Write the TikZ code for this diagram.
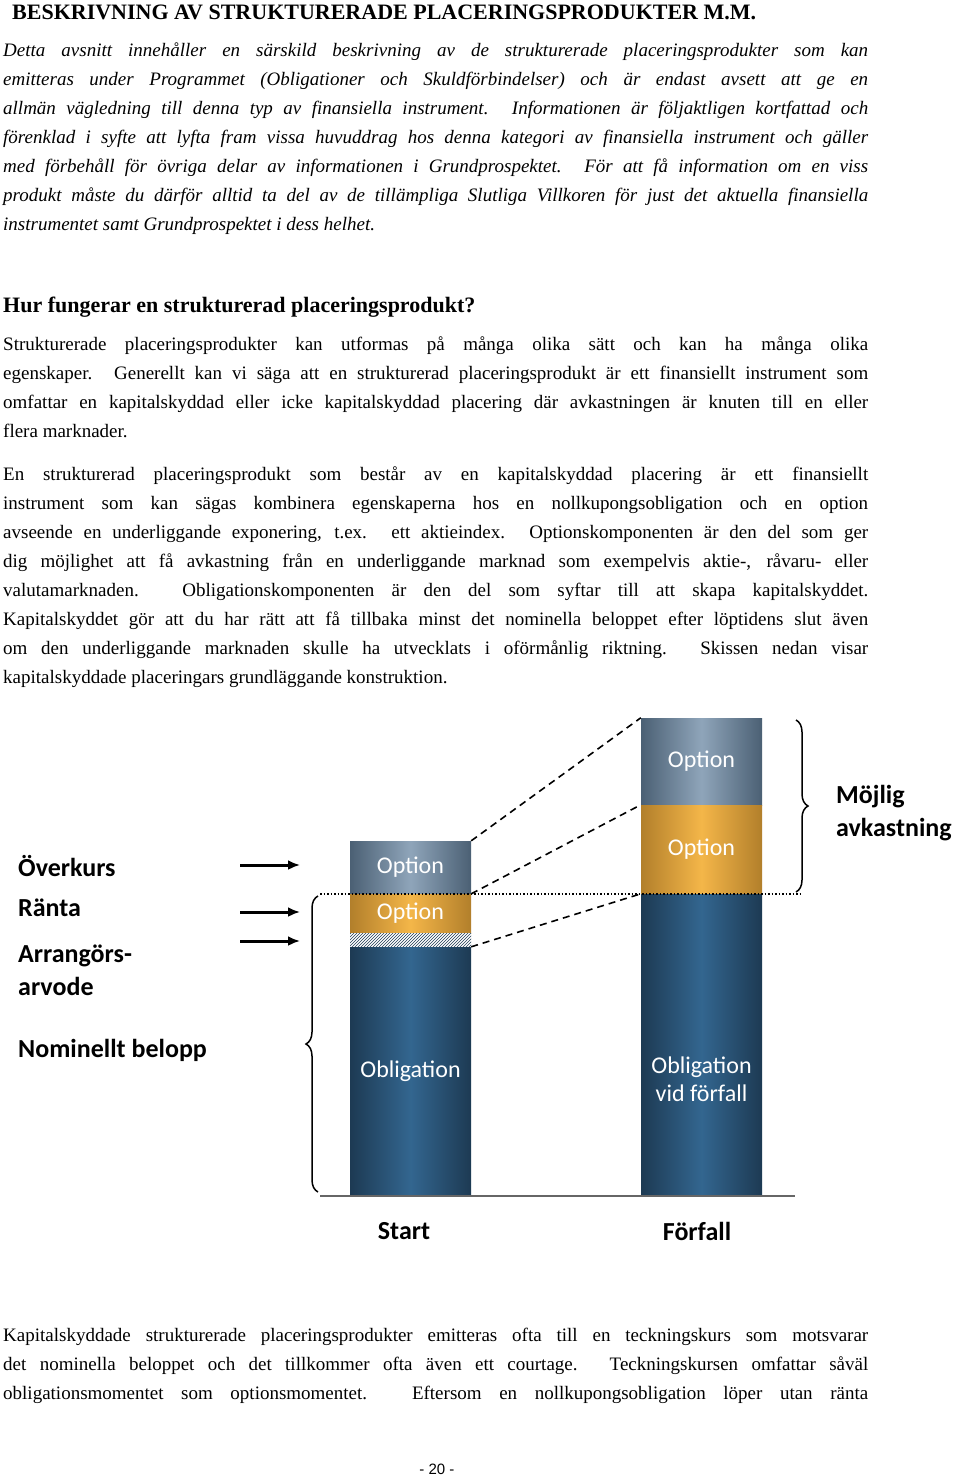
\documentclass[tikz,border=0pt]{standalone}
\usepackage{fontspec}
\setmainfont{Liberation Serif}
\newfontfamily\calib{Carlito}
\newfontfamily\arialf{Liberation Sans}
\usetikzlibrary{arrows.meta,positioning,patterns,decorations.pathreplacing}
\definecolor{optgrey}{HTML}{8FA5BA}
\definecolor{optgreyd}{HTML}{4B6074}
\definecolor{optgold}{HTML}{F4B649}
\definecolor{optgoldd}{HTML}{B27F2B}
\definecolor{oblblue}{HTML}{33668F}
\definecolor{oblblued}{HTML}{1D3A53}
\tikzset{para/.style={anchor=north west, inner sep=0pt, align=left, font=\fontsize{19}{29}\selectfont},
  seg/.style={minimum width=121pt, inner sep=0pt, text=white, font=\calib\fontsize{24}{28}\selectfont},
  greyseg/.style={seg, left color=optgreyd, right color=optgreyd, middle color=optgrey},
  goldseg/.style={seg, left color=optgoldd, right color=optgoldd, middle color=optgold},
  blueseg/.style={seg, left color=oblblued, right color=oblblued, middle color=oblblue},
  lbl/.style={anchor=west, inner sep=0pt, align=left, font=\calib\bfseries\fontsize{26}{33}\selectfont},
  arr/.style={draw, -{Latex[length=12pt,width=10pt]}, line width=3pt},
  dsh/.style={draw, dashed, line width=1.6pt, dash pattern=on 7pt off 5pt}}
\newcommand{\jl}[1]{\makebox[865pt][s]{#1}\\}

\begin{document}
\begin{tikzpicture}[x=1pt,y=-1pt]
        \useasboundingbox[fill=white] (0,0) rectangle (960,1476);
        % page text
        \node[anchor=base west, inner sep=0pt, font=\bfseries\fontsize{22}{26}\selectfont] (title) at (12,19) {BESKRIVNING AV STRUKTURERADE PLACERINGSPRODUKTER M.M.};
        \node[para, font=\itshape\fontsize{19}{29}\selectfont] (intro) at (3,43) {
            \jl{Detta avsnitt innehåller en särskild beskrivning av de strukturerade placeringsprodukter som kan}
            \jl{emitteras under Programmet (Obligationer och Skuldförbindelser) och är endast avsett att ge en}
            \jl{allmän vägledning till denna typ av finansiella instrument. Informationen är följaktligen kortfattad och}
            \jl{förenklad i syfte att lyfta fram vissa huvuddrag hos denna kategori av finansiella instrument och gäller}
            \jl{med förbehåll för övriga delar av informationen i Grundprospektet. För att få information om en viss}
            \jl{produkt måste du därför alltid ta del av de tillämpliga Slutliga Villkoren för just det aktuella finansiella}
            instrumentet samt Grundprospektet i dess helhet.};
        \node[anchor=base west, inner sep=0pt, font=\bfseries\fontsize{22}{26}\selectfont] (head) at (3,312) {Hur fungerar en strukturerad placeringsprodukt?};
        \node[para] (para1) at (3,337) {
            \jl{Strukturerade placeringsprodukter kan utformas på många olika sätt och kan ha många olika}
            \jl{egenskaper. Generellt kan vi säga att en strukturerad placeringsprodukt är ett finansiellt instrument som}
            \jl{omfattar en kapitalskyddad eller icke kapitalskyddad placering där avkastningen är knuten till en eller}
            flera marknader.};
        \node[para] (para2) at (3,467) {
            \jl{En strukturerad placeringsprodukt som består av en kapitalskyddad placering är ett finansiellt}
            \jl{instrument som kan sägas kombinera egenskaperna hos en nollkupongsobligation och en option}
            \jl{avseende en underliggande exponering, t.ex. ett aktieindex. Optionskomponenten är den del som ger}
            \jl{dig möjlighet att få avkastning från en underliggande marknad som exempelvis aktie-, råvaru- eller}
            \jl{valutamarknaden. Obligationskomponenten är den del som syftar till att skapa kapitalskyddet.}
            \jl{Kapitalskyddet gör att du har rätt att få tillbaka minst det nominella beloppet efter löptidens slut även}
            \jl{om den underliggande marknaden skulle ha utvecklats i oförmånlig riktning. Skissen nedan visar}
            kapitalskyddade placeringars grundläggande konstruktion.};
        \node[para] (para3) at (3,1328) {
            \jl{Kapitalskyddade strukturerade placeringsprodukter emitteras ofta till en teckningskurs som motsvarar}
            \jl{det nominella beloppet och det tillkommer ofta även ett courtage. Teckningskursen omfattar såväl}
            \makebox[865pt][s]{obligationsmomentet som optionsmomentet. Eftersom en nollkupongsobligation löper utan ränta}};
        \node[font=\arialf\fontsize{15}{18}\selectfont] (pageno) at (437,1469) {- 20 -};
        % bars
        \node[greyseg, minimum height=53pt] (lo) at (410.5,867.5) {Option};
        \node[goldseg, minimum height=39pt] (lg) at (410.5,913.5) {Option};
        \node[seg, minimum height=14pt, fill=white, postaction={pattern=north east lines, pattern color=oblblued}] (lh) at (410.5,940) {};
        \node[blueseg, minimum height=248pt] (lb) at (410.5,1071) {Obligation};
        \node[greyseg, minimum height=87pt] (ro) at (701.5,761.5) {Option};
        \node[goldseg, minimum height=89pt] (rg) at (701.5,849.5) {Option};
        \node[blueseg, minimum height=301pt] (rb) at (701.5,1044.5) {};
        \node[seg, align=center, font=\calib\fontsize{24}{28}\selectfont] (rbt) at (701.5,1079) {Obligation\\vid förfall};
        % connectors
        \draw[dsh] (lo.north east) -- (ro.north west);
        \draw[dsh] (lg.north east) -- (rg.north west);
        \draw[dsh] (lb.north east) -- (rb.north west);
        \coordinate (d1) at (320,894);
        \coordinate (d2) at (800,894);
        \draw[dotted, line width=1.5pt] (d1) -- (d2);
        \coordinate (b1) at (320,1196);
        \coordinate (b2) at (795,1196);
        \draw[line width=2.5pt, black!60] (b1) -- (b2);
        \coordinate (rt) at (796,720);
        \coordinate (rm) at (796,892);
        \draw[line width=1.5pt, decorate, decoration={brace, amplitude=12pt}] (rt) -- (rm);
        \coordinate (lt) at (318,896);
        \coordinate (lm) at (318,1192);
        \draw[line width=1.5pt, decorate, decoration={brace, amplitude=12pt}] (lm) -- (lt);
        % labels
        \node[lbl] (ok) at (18,866) {Överkurs};
        \node[lbl] (ra) at (18,908) {Ränta};
        \node[lbl] (ar) at (18,970) {Arrangörs-\\arvode};
        \node[lbl] (nb) at (18,1050) {Nominellt belopp};
        \node[lbl] (mo) at (836,813) {Möjlig\\avkastning};
        \node[lbl, anchor=center] (st) at (404,1231) {Start};
        \node[lbl, anchor=center] (ff) at (697,1231) {Förfall};
        \foreach \y/\n in {865/a1, 912/a2, 941/a3} {
            \coordinate (\n s) at (240,\y);
            \coordinate (\n e) at (300,\y);
            \draw[arr] (\n s) -- (\n e);
        }
\end{tikzpicture}
\end{document}
